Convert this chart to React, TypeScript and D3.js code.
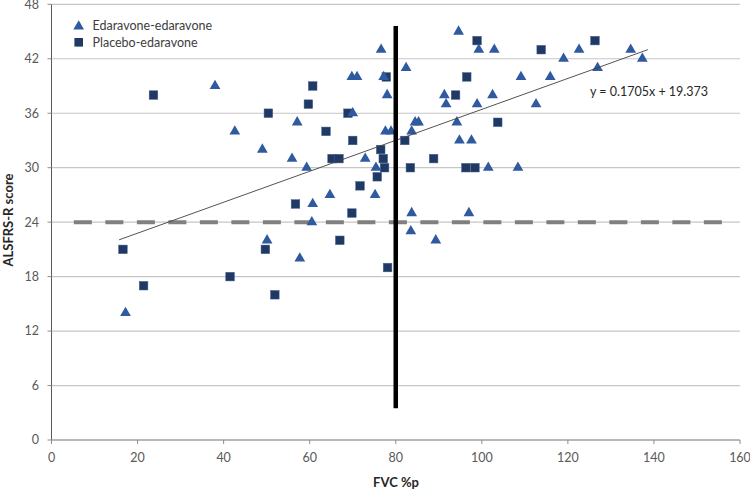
import * as d3 from "d3";
import React from "react";

// Edaravone-edaravone group (triangles)
const triFvc = [17.2, 38, 42.6, 49, 50.1, 55.9, 57.1, 57.7, 59.3, 60.5, 60.7, 64.7, 70, 69.8, 71, 72.9, 75.2, 75.4, 76.6, 77.2, 77.6, 78, 78.9, 82.4, 83.5, 83.7, 83.7, 84.5, 85.3, 89.3, 91.3, 91.7, 94.2, 94.6, 94.8, 97, 97.6, 98.9, 99.3, 101.5, 102.5, 102.9, 108.4, 109.1, 112.6, 115.9, 119, 122.6, 126.9, 134.6, 137.3];
const triScore = [14, 39, 34, 32, 22, 31, 35, 20, 30, 24, 26, 27, 36, 40, 40, 31, 27, 30, 43, 40, 34, 38, 34, 41, 23, 25, 34, 35, 35, 22, 38, 37, 35, 45, 33, 25, 33, 37, 43, 30, 38, 43, 30, 40, 37, 40, 42, 43, 41, 43, 42];

// Placebo-edaravone group (squares)
const sqFvc = [16.6, 21.4, 23.7, 41.5, 49.7, 50.4, 51.9, 56.7, 59.7, 60.7, 63.8, 65.2, 66.8, 67, 68.9, 69.8, 70, 71.7, 75.7, 76.5, 77.1, 77.4, 77.8, 78.1, 82.1, 83.4, 88.8, 93.9, 96.3, 96.5, 98.4, 98.9, 103.7, 113.8, 126.3];
const sqScore = [21, 17, 38, 18, 21, 36, 16, 26, 37, 39, 34, 31, 31, 22, 36, 25, 33, 28, 29, 32, 31, 30, 40, 19, 33, 30, 31, 38, 30, 40, 30, 44, 35, 43, 44];

const xTicks = [0, 20, 40, 60, 80, 100, 120, 140, 160];
const yTicks = [0, 6, 12, 18, 24, 30, 36, 42, 48];

const fitSlope = 0.1705;
const fitIntercept = 19.373;
const fitRange = [15.7, 138.6];

const cutoffFvc = 80;
const cutoffSpan = [3.5, 45.6];
const thresholdScore = 24;
const thresholdSpan = [5.2, 156];

const W = 750;
const H = 490;
const FONT = "Lato, 'Open Sans', sans-serif";

export default function App() {
  const x = d3.scaleLinear().domain([0, 160]).range([51.5, 740]);
  const y = d3.scaleLinear().domain([0, 48]).range([440, 4.3]);

  const tri = d3.symbol(d3.symbolTriangle, 50)()!;
  const sq = 8.6;

  const fitLine = d3
    .line<number>()
    .x((d) => x(d))
    .y((d) => y(fitSlope * d + fitIntercept));

  return (
    <svg
      width={W}
      height={H}
      style={{ position: "absolute", left: 0, top: 0, background: "#fff" }}
      fontFamily={FONT}
    >
      {/* gridlines */}
      {yTicks
        .filter((t) => t > 0)
        .map((t) => (
          <line key={"g" + t} x1={x(0)} x2={x(160)} y1={y(t)} y2={y(t)} stroke="#c6c6c6" strokeWidth={1.2} />
        ))}

      {/* y axis */}
      <line x1={x(0)} x2={x(0)} y1={y(0)} y2={y(48)} stroke="#595959" strokeWidth={1} />
      {yTicks.map((t) => (
        <g key={"y" + t}>
          <line x1={x(0) - 4} x2={x(0)} y1={y(t)} y2={y(t)} stroke="#8c8c8c" />
          <text x={39} y={y(t)} dy="0.35em" textAnchor="end" fontSize={12.5} fill="#595959">
            {t}
          </text>
        </g>
      ))}

      {/* x axis */}
      <line x1={x(0)} x2={x(160)} y1={y(0)} y2={y(0)} stroke="#a0a0a0" strokeWidth={1.4} />
      {xTicks.map((t) => (
        <g key={"x" + t}>
          <line x1={x(t)} x2={x(t)} y1={y(0)} y2={y(0) + 4} stroke="#8c8c8c" />
          <text x={x(t)} y={462} textAnchor="middle" fontSize={12.5} fill="#595959">
            {t}
          </text>
        </g>
      ))}

      {/* threshold dashed line */}
      <line
        x1={x(thresholdSpan[0])}
        x2={x(thresholdSpan[1])}
        y1={y(thresholdScore)}
        y2={y(thresholdScore)}
        stroke="#808080"
        strokeWidth={4}
        strokeDasharray="18 13.5"
      />

      {/* markers */}
      {sqFvc.map((v, i) => (
        <rect
          key={"s" + i}
          x={x(v) - sq / 2}
          y={y(sqScore[i]) - sq / 2}
          width={sq}
          height={sq}
          fill="#1f3864"
          stroke="#44608f"
          strokeWidth={0.5}
        />
      ))}
      {triFvc.map((v, i) => (
        <path key={"t" + i} d={tri} transform={`translate(${x(v)},${y(triScore[i])})`} fill="#2f5aa0" />
      ))}

      {/* regression line */}
      <path d={fitLine(fitRange)!} fill="none" stroke="#404040" strokeWidth={0.9} />

      {/* FVC cutoff */}
      <line
        x1={x(cutoffFvc)}
        x2={x(cutoffFvc)}
        y1={y(cutoffSpan[0])}
        y2={y(cutoffSpan[1])}
        stroke="#000"
        strokeWidth={4.5}
      />

      <text x={590} y={92} dy="0.35em" fontSize={12.5} fill="#262626">
        y = 0.1705x + 19.373
      </text>

      {/* legend */}
      <path d={tri} transform="translate(78.7,26.5)" fill="#2f5aa0" />
      <text x={92.5} y={26} dy="0.35em" fontSize={12.5} fill="#404040">
        Edaravone-edaravone
      </text>
      <rect x={78.7 - sq / 2} y={42.3 - sq / 2} width={sq} height={sq} fill="#1f3864" />
      <text x={92.5} y={42.3} dy="0.35em" fontSize={12.5} fill="#404040">
        Placebo-edaravone
      </text>

      {/* axis titles */}
      <text x={396} y={487} textAnchor="middle" fontSize={13} fontWeight="bold" fill="#262626">
        FVC %p
      </text>
      <text
        transform="translate(13,220) rotate(-90)"
        textAnchor="middle"
        fontSize={13}
        fontWeight="bold"
        fill="#262626"
      >
        ALSFRS-R score
      </text>
    </svg>
  );
}
